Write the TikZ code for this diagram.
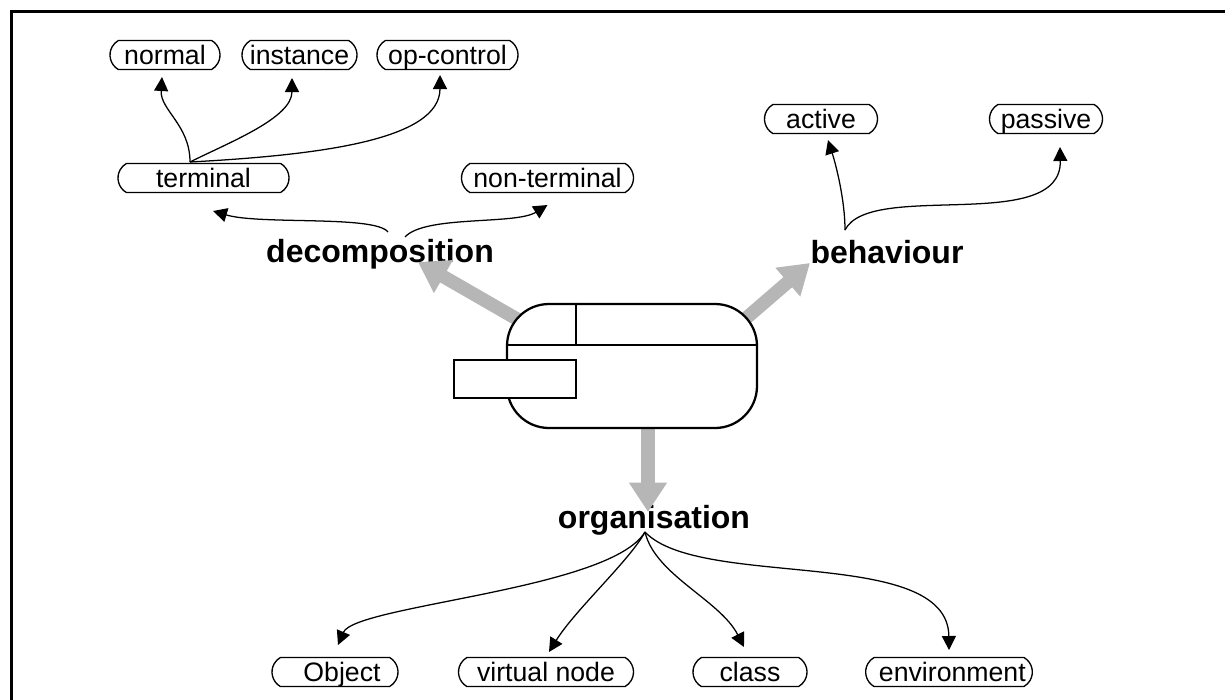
\documentclass[tikz,border=0pt]{standalone}
\usepackage{fontspec}
\setmainfont{Liberation Sans}
\usetikzlibrary{arrows.meta,shapes.misc,calc}
\definecolor{fatgray}{HTML}{B6B6B6}
\begin{document}
\begin{tikzpicture}[x=0.75pt,y=-0.75pt,
  pill/.style={draw,line width=1pt,rounded rectangle,rounded rectangle arc length=120,
    minimum height=21.75pt,inner sep=0pt,text height=14.3pt,text depth=0pt,
    font=\fontsize{20}{22}\selectfont},
  facet/.style={font=\fontsize{24}{26}\selectfont\bfseries,inner sep=0pt,anchor=base},
  link/.style={line width=0.95pt,-{Triangle[length=10.5pt,width=10.5pt]}},
  fat/.style={fatgray,line width=10pt,-{Triangle[length=22pt,width=27pt]}},
  core/.style={draw,line width=1.7pt,fill=white,rounded corners=31.5pt,
    minimum width=187.5pt,minimum height=93pt,inner sep=0pt},
]
\useasboundingbox (0,0) rectangle (1225,700);
% frame
\draw[line width=2.25pt] (11.5,700) -- (11.5,11.5) -- (1225,11.5);

% aspect labels
\node[facet] (decomp) at (380,262) {decomposition};
\node[facet] (behav) at (887,263) {behaviour};
\node[facet] (organ) at (654,528) {organisation};

% central symbol
\coordinate (cc) at (632,366);
\draw[fat] ($(cc)+(-82,-28)$) -- ($(decomp.base)+(38,0)$);
\draw[fat] ($(cc)+(83,-21)$) -- ($(behav.base)+(-77,0)$);
\draw[fat] ($(cc)+(16,54)$) -- ($(organ.base)+(-6,-16)$);
\node[core] (core) at (cc) {};
\draw[line width=1.5pt] ($(core.west)+(0,-21)$) -- ($(core.east)+(0,-21)$);
\draw[line width=1.5pt] ($(core.north)+(-56,0)$) -- ($(core.center)+(-56,-21)$);
\draw[line width=1.7pt,fill=white] ($(core.center)+(-178,-6)$) rectangle ($(core.center)+(-56,32)$);

% decomposition
\node[pill,minimum width=128.25pt] (terminal) at (203.5,178) {terminal};
\node[pill,minimum width=129pt] (nonterm) at (547.5,178) {non-terminal};
\node[pill,minimum width=82.5pt] (normal) at (165,55) {normal};
\node[pill,minimum width=86.25pt] (instance) at (299.5,55) {instance};
\node[pill,minimum width=105.75pt] (opctl) at (447.5,55) {op-control};

\draw[link] ($(decomp.base)+(8,-30)$) .. controls +(-13,-17) and +(47,14) .. ($(terminal.center)+(9.5,33)$);
\draw[link] ($(decomp.base)+(25,-25)$) .. controls +(20,-22) and +(-32,20) .. ($(nonterm.center)+(0,27)$);
\draw[link] ($(terminal.center)+(-13.5,-16)$) .. controls +(0,-37) and +(-2,33) .. ($(normal.center)+(-3,22)$);
\draw[link] ($(terminal.center)+(-13.5,-16)$) .. controls +(40,-20) and +(0,40) .. ($(instance.center)+(-7.5,23)$);
\draw[link] ($(terminal.center)+(-13.5,-16)$) .. controls +(130,-7) and +(0,65) .. ($(opctl.center)+(-7.5,20)$);

% behaviour
\node[pill,minimum width=84.75pt] (active) at (821,119) {active};
\node[pill,minimum width=84.75pt] (passive) at (1046,119) {passive};
\draw[link] ($(behav.base)+(-42,-33)$) .. controls +(0,-30) and +(8,25) .. ($(active.center)+(7,21)$);
\draw[link] ($(behav.base)+(-42,-33)$) .. controls +(25,-50) and +(2,88) .. ($(passive.center)+(14,28)$);

% organisation
\node[pill,minimum width=94.5pt] (object) at (335,672) {\hspace*{10.5pt}Object};
\node[pill,minimum width=131.25pt] (vnode) at (546,672) {virtual node};
\node[pill,minimum width=85.5pt] (class) at (750,672) {class};
\node[pill,minimum width=125pt] (env) at (949,672) {\hspace*{5pt}environment};
\draw[link] ($(organ.base)+(-9,4)$) .. controls +(-35,58) and +(17,-40) .. ($(object.center)+(3,-27)$);
\draw[link] ($(organ.base)+(-9,4)$) .. controls +(-15,28) and +(26,-42) .. ($(vnode.center)+(3,-20)$);
\draw[link] ($(organ.base)+(-9,4)$) .. controls +(10,43) and +(-24,-47) .. ($(class.center)+(-6,-25)$);
\draw[link] ($(organ.base)+(-9,4)$) .. controls +(55,58) and +(-1,-105) .. ($(env.center)+(0,-22)$);
\end{tikzpicture}
\end{document}
